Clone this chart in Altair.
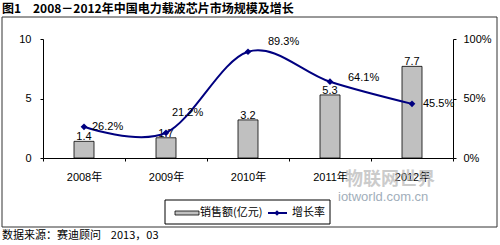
import altair as alt
import pandas as pd

years = ["2008年", "2009年", "2010年", "2011年", "2012年"]
sales = [1.4, 1.7, 3.2, 5.3, 7.7]          # 销售额(亿元)
growth = [26.2, 21.2, 89.3, 64.1, 45.5]    # 增长率 (%)
left_ticks = [0, 5, 10]
right_ticks = [0, 0.5, 1.0]

# label placement for growth labels (dx, dy) in px
growth_label_offsets = [(8, 0), (6, -20), (20, -10), (18, -4), (11, 0)]

FONT = "Liberation Sans, Noto Sans CJK SC"
CJK = "Noto Sans CJK SC"
NAVY = "#000080"

df = pd.DataFrame({"year": years, "sales": sales, "growth": [g / 100 for g in growth],
                   "glabel": [f"{g:.1f}%" for g in growth]})

xenc = alt.X("year:N", sort=years, title=None,
             scale=alt.Scale(paddingInner=0, paddingOuter=0),
             axis=alt.Axis(labelAngle=0, tickBand="extent", tickSize=3, labelPadding=10,
                           labelFontSize=11, labelFont=FONT, domainColor="#000", tickColor="#000",
                           labelColor="#000"))

base = alt.Chart(df)

bars = base.mark_bar(size=20, color="#c0c0c0", stroke="#000", strokeWidth=0.8).encode(
    x=xenc,
    y=alt.Y("sales:Q", title=None, scale=alt.Scale(domain=[0, 10], nice=False),
            axis=alt.Axis(values=left_ticks, grid=False, tickSize=3, labelPadding=9,
                          labelFontSize=11, labelFont=FONT, domainColor="#000", tickColor="#000",
                          labelColor="#000")),
)
bar_text = base.mark_text(baseline="alphabetic", dy=-1, fontSize=11, font=FONT, color="#000").encode(
    x=alt.X("year:N", sort=years), y=alt.Y("sales:Q"), text=alt.Text("sales:Q", format=".1f"))

left_layer = alt.layer(bars, bar_text)

yr = alt.Y("growth:Q", title=None, scale=alt.Scale(domain=[0, 1], nice=False),
           axis=alt.Axis(orient="right", values=right_ticks, format=".0%", grid=False, tickSize=3,
                         labelPadding=7, labelFontSize=11, labelFont=FONT, domainColor="#000",
                         tickColor="#000", labelColor="#000"))
line = base.mark_line(interpolate="cardinal", color=NAVY, strokeWidth=2).encode(
    x=alt.X("year:N", sort=years), y=yr)
pts = base.mark_point(shape="diamond", filled=True, size=45, color=NAVY, opacity=1).encode(
    x=alt.X("year:N", sort=years), y=alt.Y("growth:Q"))
glabels = []
for i, (dx, dy) in enumerate(growth_label_offsets):
    glabels.append(
        alt.Chart(df.iloc[[i]]).mark_text(align="left", baseline="middle", dx=dx, dy=dy,
                                          fontSize=11, font=FONT, color="#000").encode(
            x=alt.X("year:N", sort=years), y=alt.Y("growth:Q"), text="glabel:N"))
right_layer = alt.layer(line, pts, *glabels)

one = pd.DataFrame({"a": [0]})


def txt(s, x, y, size=11, weight="normal", align="left", color="#000", font=CJK, opacity=1.0):
    return alt.Chart(one).mark_text(text=s, align=align, baseline="middle", fontSize=size,
                                    fontWeight=weight, color=color, font=font,
                                    opacity=opacity).encode(x=alt.value(x), y=alt.value(y))


frame = alt.Chart(one).mark_rect(fill=None, stroke="#333", strokeWidth=1).encode(
    x=alt.value(-41), x2=alt.value(454), y=alt.value(-22), y2=alt.value(188))
legend_box = alt.Chart(one).mark_rect(fill="white", stroke="#000", strokeWidth=1).encode(
    x=alt.value(122), x2=alt.value(287), y=alt.value(161), y2=alt.value(185))
leg_bar = alt.Chart(one).mark_rect(fill="#c0c0c0", stroke="#000", strokeWidth=0.8).encode(
    x=alt.value(132), x2=alt.value(156), y=alt.value(172), y2=alt.value(176))
leg_line = alt.Chart(one).mark_rule(color=NAVY, strokeWidth=2).encode(
    x=alt.value(225), x2=alt.value(244), y=alt.value(174))
leg_pt = alt.Chart(one).mark_point(shape="diamond", filled=True, size=30, color=NAVY, opacity=1).encode(
    x=alt.value(234), y=alt.value(174))

NB = "\u00a0"
deco = [
    frame,
    txt("物联网世界", 302, 141, size=18, weight="bold", color="#aaa", opacity=0.6),
    txt("iotworld.com.cn", 295, 158, size=13, color="#8a9aaa", font=FONT, opacity=0.8),
    legend_box, leg_bar, leg_line, leg_pt,
    txt("销售额(亿元)", 157, 174, size=11),
    txt("增长率", 249, 174, size=11),
    txt("图1", -41, -30, size=12, weight="bold"),
    txt("2008－2012年中国电力载波芯片市场规模及增长", -10, -30, size=12, weight="bold"),
    txt("数据来源：赛迪顾问" + NB * 4 + "2013，03", -41, 197, size=11),
]

chart = alt.layer(left_layer, right_layer, *deco).resolve_scale(y="independent").properties(
    width=410, height=119,
    autosize=alt.AutoSizeParams(type="none"),
    padding={"left": 43, "top": 39, "right": 47, "bottom": 87},
    background="white",
).configure_view(stroke=None)

chart.save("out.html", embed_options={"renderer": "svg", "actions": False})
